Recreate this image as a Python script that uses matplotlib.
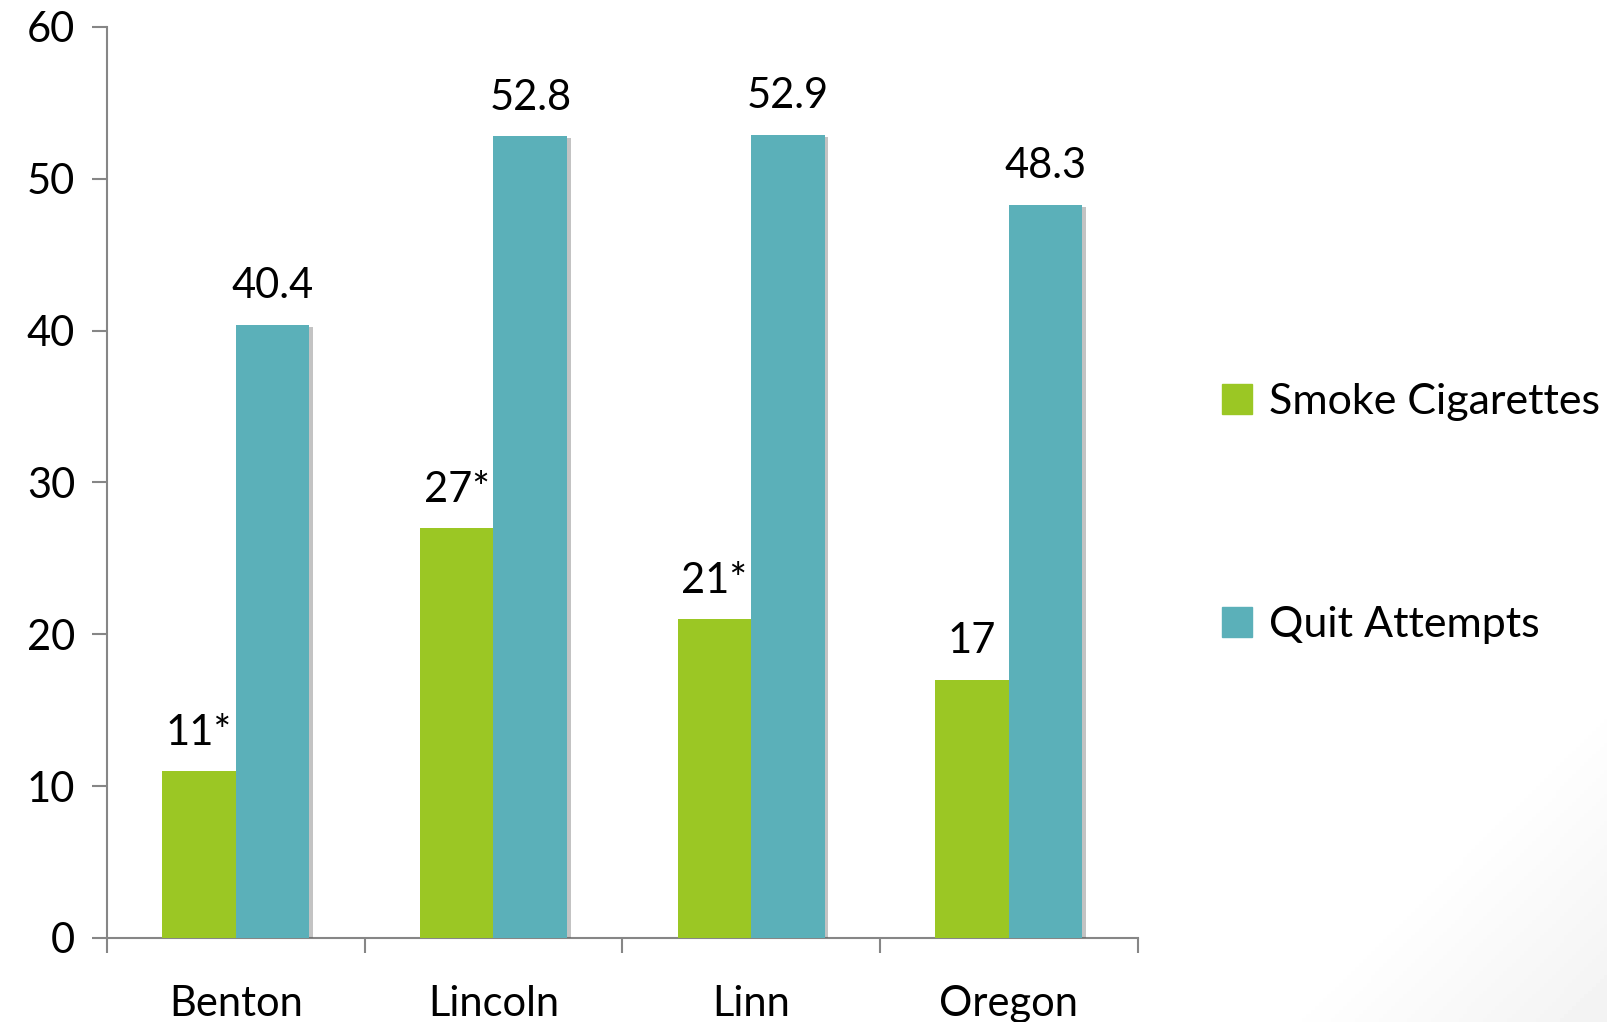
import matplotlib.pyplot as plt
import matplotlib.patheffects as pe
from matplotlib.patches import Patch
import numpy as np

counties = ["Benton", "Lincoln", "Linn", "Oregon"]
smoke = [11, 27, 21, 17]
quit_attempts = [40.4, 52.8, 52.9, 48.3]
smoke_labels = ["11*", "27*", "21*", "17"]
quit_labels = ["40.4", "52.8", "52.9", "48.3"]

green = "#9BC724"
teal = "#5BB0B9"

plt.rcParams['font.family'] = ['Lato', 'DejaVu Sans']

fig = plt.figure(figsize=(16.08, 10.22), dpi=100)

# faint grey shading in the lower right corner of the slide
bg = fig.add_axes([0, 0, 1, 1], zorder=-1)
gx, gy = np.meshgrid(np.linspace(0, 1, 400), np.linspace(0, 1, 260))
d = (gx - 1) * 1608 * 0.7 - gy * 1022 * 0.7
shade = np.clip((d + 230) / 230, 0, 1)
bg.imshow(1 - 0.05 * shade, cmap="gray", vmin=0, vmax=1, extent=[0, 1, 0, 1], aspect="auto", origin="lower")
bg.axis("off")

ax = fig.add_axes([0.0665, 0.0822, 0.641, 0.8914])
ax.patch.set_alpha(0)

x = np.arange(len(counties))
w = 1 / 3.5
shadow = [pe.SimplePatchShadow(offset=(2.5, -1.5), alpha=0.35, shadow_rgbFace='#555555'), pe.Normal()]
ax.bar(x - w / 2, smoke, w, color=green, path_effects=shadow, zorder=3)
ax.bar(x + w / 2, quit_attempts, w, color=teal, path_effects=shadow, zorder=3)

for xi, v, t in zip(x - w / 2, smoke, smoke_labels):
    ax.annotate(t, (xi, v), xytext=(0, 14), textcoords="offset points", ha="center", va="bottom", fontsize=30)
for xi, v, t in zip(x + w / 2, quit_attempts, quit_labels):
    ax.annotate(t, (xi, v), xytext=(0, 14), textcoords="offset points", ha="center", va="bottom", fontsize=30)

ax.set_xlim(-0.5, 3.5)
ax.set_ylim(0, 60)
ax.set_yticks(range(0, 61, 10))
ax.set_xticks(np.arange(-0.5, 4, 1))
ax.set_xticklabels([])
ax.set_xticks(x, minor=True)
ax.set_xticklabels(counties, minor=True)
ax.tick_params(axis="x", which="minor", length=0, pad=34, labelsize=30)
ax.tick_params(axis="x", which="major", length=11, width=1.5, color="#868686")
ax.tick_params(axis="y", length=11, width=1.5, color="#868686", labelsize=30, pad=12)

for s in ["top", "right"]:
    ax.spines[s].set_visible(False)
for s in ["left", "bottom"]:
    ax.spines[s].set_color("#868686")
    ax.spines[s].set_linewidth(1.5)

handles = [Patch(color=green, label="Smoke Cigarettes"), Patch(color=teal, label="Quit Attempts")]
ax.legend(handles=handles, loc="center left", bbox_to_anchor=(1.044, 0.466), frameon=False,
          fontsize=31, labelspacing=4.3, handlelength=0.7, handleheight=0.7, handletextpad=0.4)

fig.savefig("out.png", dpi=100)
